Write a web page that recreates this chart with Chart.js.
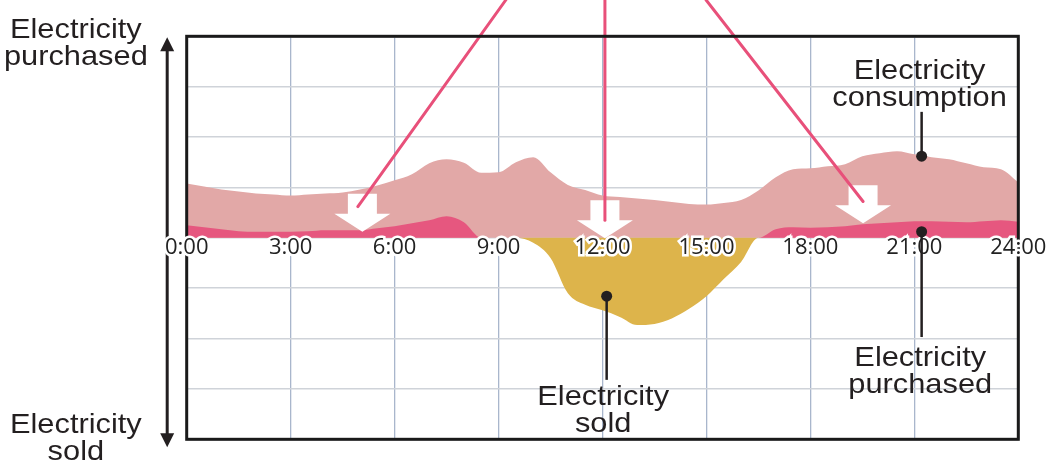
<!DOCTYPE html>
<html>
<head>
<meta charset="utf-8">
<script src="https://cdn.jsdelivr.net/npm/chart.js@4.4.1/dist/chart.umd.min.js"></script>
<style>
  html, body { margin: 0; padding: 0; background: #ffffff; }
  #wrap { width: 1052px; height: 463px; position: relative; }
</style>
</head>
<body>
<div id="wrap"><canvas id="c"></canvas></div>
<script>
// ---- data (hours of the day, half-hourly) ----
const hours = [0,0.5,1,1.5,2,2.5,3,3.5,4,4.5,5,5.5,6,6.5,7,7.5,8,8.5,9,9.5,10,10.5,11,11.5,12,12.5,13,13.5,14,14.5,15,15.5,16,16.5,17,17.5,18,18.5,19,19.5,20,20.5,21,21.5,22,22.5,23,23.5,24];
const consumption = [1.08,1.02,0.96,0.92,0.88,0.86,0.84,0.86,0.88,0.90,0.96,1.04,1.14,1.26,1.48,1.56,1.49,1.29,1.30,1.50,1.60,1.30,1.05,0.95,0.84,0.81,0.78,0.75,0.71,0.67,0.66,0.69,0.75,0.94,1.20,1.36,1.38,1.42,1.46,1.62,1.68,1.72,1.66,1.60,1.56,1.48,1.40,1.36,1.10];
const purchased   = [0.25,0.21,0.17,0.13,0.12,0.12,0.12,0.13,0.15,0.15,0.15,0.19,0.23,0.29,0.35,0.43,0.31,0,0,0,0,0,0,0,0,0,0,0,0,0,0,0,0,0,0.17,0.21,0.20,0.21,0.23,0.27,0.29,0.31,0.33,0.33,0.32,0.31,0.33,0.35,0.32];
const sold        = [0,0,0,0,0,0,0,0,0,0,0,0,0,0,0,0,0,0,0,0,-0.10,-0.40,-1.10,-1.33,-1.44,-1.57,-1.73,-1.71,-1.60,-1.41,-1.16,-0.82,-0.48,0,0,0,0,0,0,0,0,0,0,0,0,0,0,0,0];
const tickHours  = [0,3,6,9,12,15,18,21,24];
const tickLabels = ['0:00','3:00','6:00','9:00','12:00','15:00','18:00','21:00','24:00'];

// ---- annotation texts / callouts (positions in data units) ----
const calloutTexts = {
  consumption: ['Electricity', 'consumption'],
  purchased:   ['Electricity', 'purchased'],
  sold:        ['Electricity', 'sold'],
  axisTop:     ['Electricity', 'purchased'],
  axisBottom:  ['Electricity', 'sold']
};
const callouts = [
  { key: 'consumption', h: 21.15, v: 3.15, dot: [21.21, 1.62], to: 2.50 },
  { key: 'purchased',   h: 21.17, v: -2.55, dot: [21.21, 0.12], to: -1.97 },
  { key: 'sold',        h: 12.02, v: -3.32, dot: [12.12, -1.16], to: -2.82 }
];
const arrows = [ { h: 5.07, v: 0.12 }, { h: 12.07, v: -0.01 }, { h: 19.52, v: 0.29 } ];
const pinkLines = [ { top: 9.21, h: 4.94, v: 0.62 }, { top: 12.07, h: 12.07, v: 0.35 }, { top: 14.99, h: 19.52, v: 0.72 } ];

const TEXT = '#231f20';
const LABEL_FONT = '"Liberation Sans", Arial, Helvetica, sans-serif';

function drawLabel(ctx, text, cx, by) {
  ctx.save();
  ctx.translate(cx, by);
  ctx.scale(1.1, 1);
  ctx.font = '28px ' + LABEL_FONT;
  ctx.fillStyle = TEXT;
  ctx.textAlign = 'center';
  ctx.textBaseline = 'alphabetic';
  ctx.fillText(text, 0, 0);
  ctx.restore();
}

const decor = {
  id: 'decor',
  afterDatasetsDraw(chart) {
    const { ctx, chartArea: a, scales: { x, y } } = chart;
    // white arrows
    ctx.save();
    ctx.fillStyle = '#ffffff';
    arrows.forEach(ar => {
      const cx = x.getPixelForValue(ar.h), tip = y.getPixelForValue(ar.v);
      const sw = 14.5, hw = 28, hh = 18, tot = 38;
      ctx.beginPath();
      ctx.moveTo(cx - sw, tip - tot);
      ctx.lineTo(cx + sw, tip - tot);
      ctx.lineTo(cx + sw, tip - hh);
      ctx.lineTo(cx + hw, tip - hh);
      ctx.lineTo(cx, tip);
      ctx.lineTo(cx - hw, tip - hh);
      ctx.lineTo(cx - sw, tip - hh);
      ctx.closePath();
      ctx.fill();
    });
    ctx.restore();
    // pink callout lines from the (cropped) heading
    ctx.save();
    ctx.strokeStyle = '#e8507a';
    ctx.lineWidth = 3;
    ctx.lineCap = 'round';
    pinkLines.forEach(p => {
      ctx.beginPath();
      ctx.moveTo(x.getPixelForValue(p.top), 0);
      ctx.lineTo(x.getPixelForValue(p.h), y.getPixelForValue(p.v));
      ctx.stroke();
    });
    ctx.restore();
    // plot frame (below the tick labels)
    ctx.save();
    ctx.strokeStyle = '#1a1a1a';
    ctx.lineWidth = 3;
    ctx.strokeRect(a.left, a.top, a.right - a.left, a.bottom - a.top);
    ctx.restore();

    // vertical double arrow at the left (below the tick labels)
    const ax = a.left - 19.5;
    ctx.save();
    ctx.strokeStyle = TEXT;
    ctx.fillStyle = TEXT;
    ctx.lineWidth = 3;
    ctx.beginPath();
    ctx.moveTo(ax, a.top + 10);
    ctx.lineTo(ax, a.bottom - 3);
    ctx.stroke();
    ctx.beginPath();
    ctx.moveTo(ax, a.top + 1);
    ctx.lineTo(ax - 7, a.top + 15);
    ctx.lineTo(ax + 7, a.top + 15);
    ctx.closePath();
    ctx.fill();
    ctx.beginPath();
    ctx.moveTo(ax, a.bottom + 8);
    ctx.lineTo(ax - 7, a.bottom - 6);
    ctx.lineTo(ax + 7, a.bottom - 6);
    ctx.closePath();
    ctx.fill();
    ctx.restore();
  },
  afterDraw(chart) {
    const { ctx, chartArea: a, scales: { x, y } } = chart;
    // callout leader lines, dots and texts
    ctx.save();
    ctx.strokeStyle = TEXT;
    ctx.fillStyle = TEXT;
    ctx.lineWidth = 2.5;
    callouts.forEach(c => {
      const dx = x.getPixelForValue(c.dot[0]), dy = y.getPixelForValue(c.dot[1]);
      ctx.beginPath();
      ctx.moveTo(dx, dy);
      ctx.lineTo(dx, y.getPixelForValue(c.to));
      ctx.stroke();
      ctx.beginPath();
      ctx.arc(dx, dy, 5.5, 0, Math.PI * 2);
      ctx.fill();
      const lines = calloutTexts[c.key];
      const cx = x.getPixelForValue(c.h), by = y.getPixelForValue(c.v);
      lines.forEach((t, i) => drawLabel(ctx, t, cx, by + i * 26.5));
    });
    ctx.restore();

    // axis-end texts
    const lx = (a.left - 19) / 2 - 8;
    calloutTexts.axisTop.forEach((t, i) => drawLabel(ctx, t, lx, a.top + 2 + i * 27));
    calloutTexts.axisBottom.forEach((t, i) => drawLabel(ctx, t, lx, a.bottom - 6 + i * 27));
  }
};

const toPts = arr => hours.map((h, i) => ({ x: h, y: arr[i] }));

new Chart(document.getElementById('c'), {
  type: 'line',
  data: {
    datasets: [
      { label: 'Electricity purchased', data: toPts(purchased), order: 1,
        backgroundColor: '#e6577f', borderWidth: 0, pointRadius: 0, fill: 'origin', cubicInterpolationMode: 'monotone' },
      { label: 'Electricity sold', data: toPts(sold), order: 2,
        backgroundColor: '#ddb44b', borderWidth: 0, pointRadius: 0, fill: 'origin', cubicInterpolationMode: 'monotone' },
      { label: 'Electricity consumption', data: toPts(consumption), order: 3,
        backgroundColor: '#e2a8a7', borderWidth: 0, pointRadius: 0, fill: 'origin', cubicInterpolationMode: 'monotone' }
    ]
  },
  options: {
    responsive: true,
    maintainAspectRatio: false,
    animation: false,
    devicePixelRatio: 1,
    layout: { padding: { left: 186.7, right: 33.7, top: 36.3, bottom: 23.7 } },
    plugins: { legend: { display: false }, tooltip: { enabled: false } },
    scales: {
      x: {
        type: 'linear', min: 0, max: 24, position: 'bottom',
        afterBuildTicks: s => { s.ticks = tickHours.map(v => ({ value: v })); },
        grid: { color: '#a9b6cc', lineWidth: 1.3, drawTicks: false },
        border: { display: false },
        ticks: { display: false }
      },
      xl: {
        type: 'linear', min: 0, max: 24, position: { y: 0 },
        afterBuildTicks: s => { s.ticks = tickHours.map(v => ({ value: v })); },
        grid: { display: false, drawTicks: false },
        border: { display: false },
        ticks: {
          z: 1,
          autoSkip: false, maxRotation: 0, padding: 1,
          color: '#222222',
          font: { family: '"Open Sans", "Noto Sans", sans-serif', size: 22, lineHeight: 0.8 },
          textStrokeColor: '#ffffff', textStrokeWidth: 5,
          callback: (v) => tickLabels[tickHours.indexOf(v)]
        }
      },
      y: {
        type: 'linear', min: -4, max: 4,
        afterBuildTicks: s => { s.ticks = [-4,-3,-2,-1,0,1,2,3,4].map(v => ({ value: v })); },
        grid: { color: '#cfd3d9', lineWidth: 1.5, drawTicks: false },
        border: { display: false },
        ticks: { display: false }
      }
    }
  },
  plugins: [decor]
});
</script>
</body>
</html>
